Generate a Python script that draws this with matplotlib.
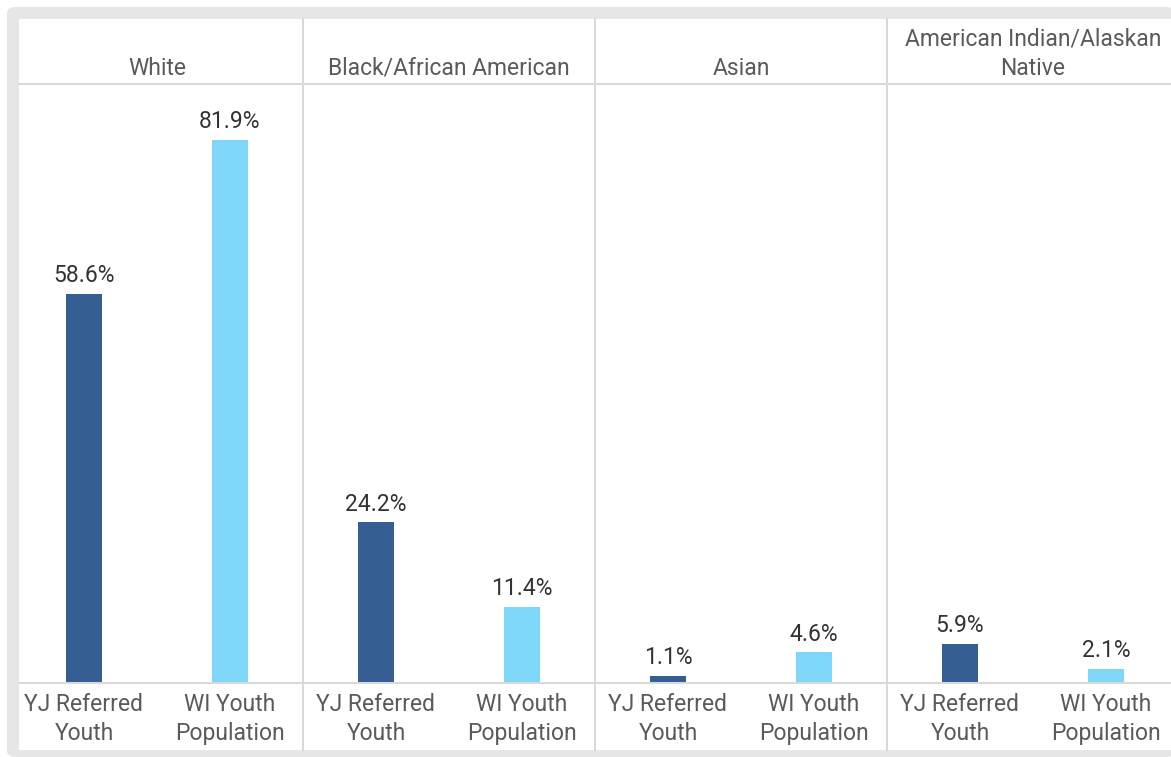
import matplotlib
matplotlib.use("Agg")
import matplotlib.pyplot as plt
from matplotlib.patches import FancyBboxPatch, Rectangle
from matplotlib.lines import Line2D
import matplotlib.transforms as mtransforms

plt.rcParams['font.family'] = ['Roboto', 'DejaVu Sans']

groups = ["White", "Black/African American", "Asian", "American Indian/Alaskan\nNative"]
series = ["YJ Referred\nYouth", "WI Youth\nPopulation"]
yj_values = [58.6, 24.2, 1.1, 5.9]
wi_values = [81.9, 11.4, 4.6, 2.1]
colors = ["#355E93", "#7ED6F8"]

W, H = 1171, 757
fig = plt.figure(figsize=(W / 100, H / 100), dpi=100)
fig.patch.set_facecolor("white")

def fx(px):
    return px / W

def fy(py):
    return 1 - py / H

# outer gray frame
fig.patches.append(FancyBboxPatch((fx(7), fy(757)), fx(1175) - fx(7), fy(7) - fy(757),
                                  boxstyle="round,pad=0,rounding_size=0.008",
                                  transform=fig.transFigure, facecolor="#e6e6e6",
                                  edgecolor="none", zorder=0))
fig.patches.append(Rectangle((fx(19), fy(750)), fx(1175) - fx(19), fy(19) - fy(750),
                             transform=fig.transFigure, facecolor="white",
                             edgecolor="none", zorder=0.5))

ax = fig.add_axes([fx(11), fy(683), fx(1179) - fx(11), fy(84) - fy(683)])
ax.set_zorder(2)
ax.patch.set_alpha(0)
for s in ax.spines.values():
    s.set_visible(False)
ax.set_xticks([])
ax.set_yticks([])

n = len(groups)
ax.set_xlim(-0.5, 2 * n - 0.5)
ax.set_ylim(0, 90.3)

fs = 16.5
bw = 0.247
for i in range(n):
    for j, vals in enumerate([yj_values, wi_values]):
        x = 2 * i + j
        ax.bar(x, vals[i], width=bw, color=colors[j], zorder=3)
        ax.annotate(f"{vals[i]:.1f}%", (x, vals[i]), xytext=(0, 5),
                    textcoords="offset points", ha="center", va="bottom",
                    fontsize=fs, color="#333333")

line_c = "#d9d9d9"
bt = mtransforms.blended_transform_factory(ax.transData, fig.transFigure)
for yy in (84, 683):
    fig.add_artist(Line2D([fx(19), fx(1175)], [fy(yy), fy(yy)], color=line_c, lw=1.5,
                          transform=fig.transFigure, zorder=3))
for i in range(1, n):
    xs = 2 * i - 0.5
    fig.add_artist(Line2D([xs, xs], [fy(19), fy(750)], color=line_c, lw=1.5,
                          transform=bt, zorder=3))

# headers
for i, g in enumerate(groups):
    fig.text(2 * i + 0.5, fy(80), g, transform=bt, ha="center", va="bottom",
             fontsize=fs, color="#5a5a5a", linespacing=1.37, zorder=4)

# category labels
for i in range(n):
    for j, s in enumerate(series):
        fig.text(2 * i + j, fy(719), s, transform=bt, ha="center", va="center",
                 fontsize=fs, color="#5a5a5a", linespacing=1.37, zorder=4)

fig.savefig("out.png", dpi=100)
